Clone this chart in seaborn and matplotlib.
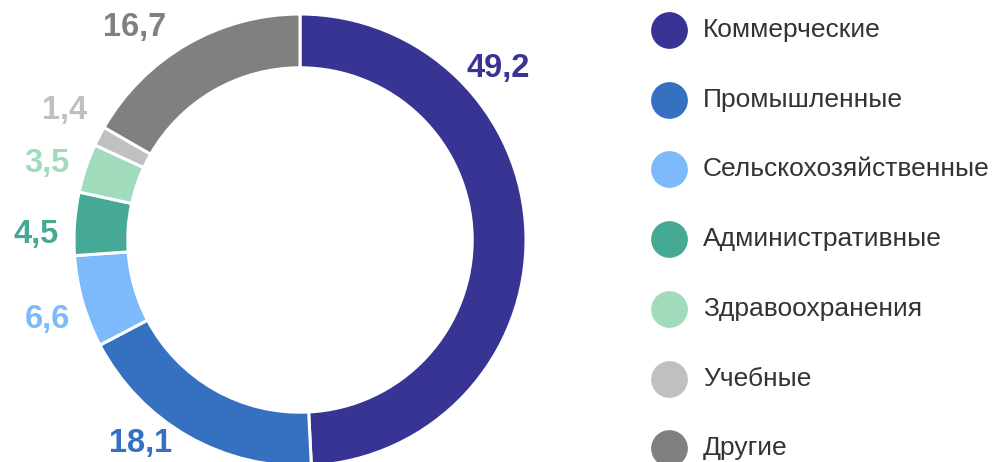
import numpy as np
import matplotlib
matplotlib.use("Agg")
import matplotlib.pyplot as plt
import seaborn as sns

categories = ["Коммерческие", "Промышленные", "Сельскохозяйственные",
              "Административные", "Здравоохранения", "Учебные", "Другие"]
values = [49.2, 18.1, 6.6, 4.5, 3.5, 1.4, 16.7]
value_labels = ["49,2", "18,1", "6,6", "4,5", "3,5", "1,4", "16,7"]
colors = ["#373494", "#3570c1", "#7dbafb", "#45a995", "#a0dcbc", "#c0c0c0", "#808080"]

sns.set_theme(style="white")
plt.rcParams["font.family"] = ["Liberation Sans", "DejaVu Sans"]
palette = sns.color_palette(colors)

W, H = 994, 462
fig = plt.figure(figsize=(W / 100, H / 100), dpi=100)
ax = fig.add_axes([0, 0, 1, 1])

cx, cy, R = 300, 222, 226
wedges, _ = ax.pie(values, colors=palette, startangle=90, counterclock=False,
                   center=(cx, cy), radius=R,
                   wedgeprops=dict(width=R * 0.238, edgecolor="white", linewidth=2.2))

# value labels around the ring, nudged to sit where the source puts them
angle_shift = {0: 39.5, 1: -8.3, 2: 1.7, 3: 3.0, 4: 1.7, 5: -1.4, 6: 7.8}
radius_fac = {0: 1.16, 1: 1.145, 5: 1.19, 6: 1.19}
cum = np.cumsum([0] + values[:-1])
for i, (v, c0) in enumerate(zip(values, cum)):
    ang = 90 - (c0 + v / 2) / sum(values) * 360 + angle_shift.get(i, 0)
    r = R * radius_fac.get(i, 1.17)
    x = cx + r * np.cos(np.radians(ang))
    y = cy + r * np.sin(np.radians(ang))
    ax.text(x, y, value_labels[i], color=palette[i], fontsize=23.5, fontweight="bold",
            ha="center", va="center")

# legend
for i, (name, col) in enumerate(zip(categories, palette)):
    y = 432 - i * 69.7
    ax.scatter([669], [y], s=700, color=col, linewidths=0)
    ax.text(703, y, name, fontsize=19, color="#333333", va="center", ha="left")

ax.set_xlim(0, W)
ax.set_ylim(0, H)
ax.set_aspect("equal")
ax.axis("off")

fig.savefig("out.png", dpi=100)
